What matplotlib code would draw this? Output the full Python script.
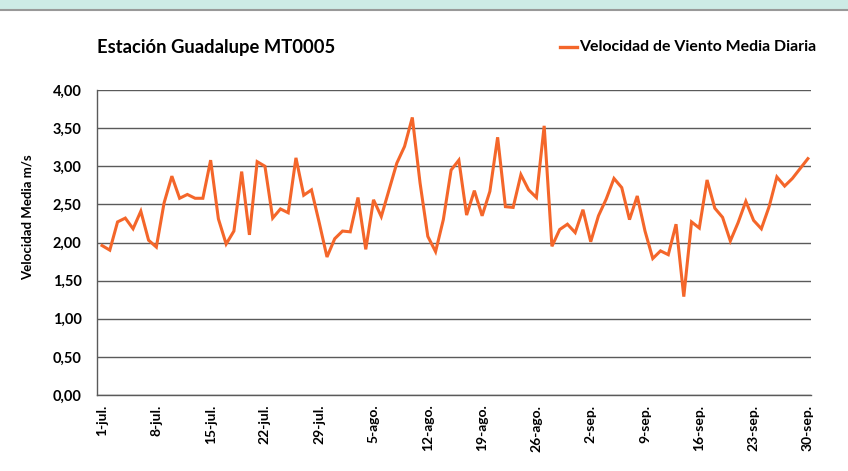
import matplotlib
matplotlib.use("Agg")
import matplotlib.pyplot as plt
from matplotlib.patches import Rectangle
from matplotlib.lines import Line2D
import numpy as np

plt.rcParams['font.family'] = ['Lato', 'DejaVu Sans']

title = "Estación Guadalupe MT0005"
series_name = "Velocidad de Viento Media Diaria"
y_label = "Velocidad Media m/s"

# Daily values 1-jul .. 30-sep (92 days)
values = [
    1.96, 1.90, 2.27, 2.32, 2.18, 2.41, 2.03, 1.94, 2.52, 2.87,
    2.58, 2.63, 2.58, 2.58, 3.08, 2.31, 1.98, 2.15, 2.93, 2.10,
    3.06, 3.00, 2.32, 2.44, 2.39, 3.11, 2.62, 2.69, 2.26, 1.81,
    2.05, 2.15, 2.14, 2.59, 1.91, 2.56, 2.34, 2.69, 3.04, 3.26,
    3.64, 2.78, 2.08, 1.88, 2.30, 2.95, 3.08, 2.36, 2.68, 2.35,
    2.67, 3.38, 2.47, 2.46, 2.89, 2.69, 2.59, 3.53, 1.95, 2.17,
    2.24, 2.13, 2.43, 2.01, 2.35, 2.57, 2.84, 2.72, 2.30, 2.61,
    2.15, 1.79, 1.89, 1.84, 2.24, 1.29, 2.27, 2.19, 2.82, 2.45,
    2.33, 2.02, 2.26, 2.54, 2.29, 2.18, 2.47, 2.86, 2.74, 2.84,
    2.97, 3.10,
]
tick_labels = ["1-jul.", "8-jul.", "15-jul.", "22-jul.", "29-jul.", "5-ago.",
               "12-ago.", "19-ago.", "26-ago.", "2-sep.", "9-sep.", "16-sep.",
               "23-sep.", "30-sep."]
y_ticks = [0.0, 0.5, 1.0, 1.5, 2.0, 2.5, 3.0, 3.5, 4.0]

days = np.arange(len(values))
tick_pos = np.arange(0, len(values), 7)

fig = plt.figure(figsize=(8.48, 4.71), dpi=100)
# top band
fig.patches.append(Rectangle((0, 1 - 9/471), 1, 9/471, transform=fig.transFigure,
                             facecolor='#cdebe6', edgecolor='none', zorder=0))
fig.lines.append(Line2D([0, 1], [1 - 9.5/471, 1 - 9.5/471], transform=fig.transFigure,
                        color='#999999', lw=1.5))

ax = fig.add_axes([97/848, 1 - 395/471, (811-97)/848, (395-90)/471])
ax.plot(days, values, color='#f4662a', lw=2.2, solid_joinstyle='miter', zorder=3)
ax.set_xlim(-0.65, 91.4)
ax.set_ylim(0, 4.0)
ax.set_yticks(y_ticks)
ax.set_yticklabels([f"{v:.2f}".replace('.', ',') for v in y_ticks],
                   fontsize=10.5, fontweight='bold')
ax.set_xticks(tick_pos)
ax.set_xticklabels(tick_labels, rotation=90, fontsize=10, fontweight='bold')
ax.tick_params(axis='y', length=0, pad=11)
ax.tick_params(axis='x', length=0, pad=7)
ax.yaxis.grid(True, color='#5a5a5a', lw=1.0)
ax.set_axisbelow(True)
for s in ['top', 'right']:
    ax.spines[s].set_visible(False)
for s in ['left', 'bottom']:
    ax.spines[s].set_color('#5a5a5a')
    ax.spines[s].set_linewidth(1.0)

fig.text(28/848, 1 - 217/471, y_label, fontsize=9.5, fontweight='bold',
         rotation=90, va='center', ha='center')

fig.text(97/848, 1 - 47/471, title, fontsize=13.2, fontweight='bold', va='center', ha='left')
fig.lines.append(Line2D([560/848, 577/848], [1 - 47/471, 1 - 47/471], transform=fig.transFigure,
                        color='#f4662a', lw=2.4))
fig.text(579/848, 1 - 47/471, series_name, fontsize=11.4, fontweight='bold', va='center', ha='left')

fig.savefig("out.png", dpi=100)
